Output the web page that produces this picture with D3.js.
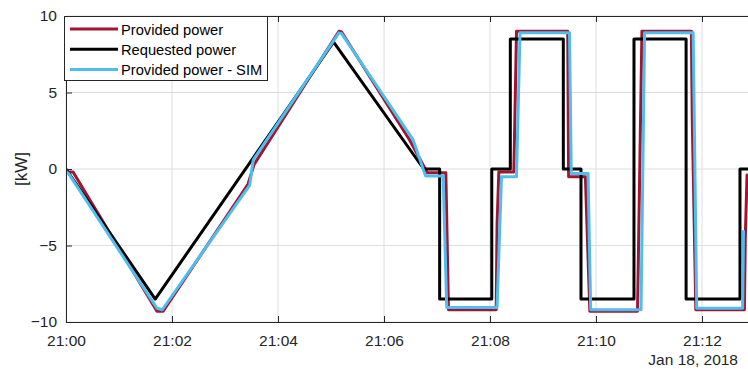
<!DOCTYPE html>
<html><head><meta charset="utf-8">
<script src="https://cdn.jsdelivr.net/npm/d3@7"></script>
<style>body{margin:0;background:#fff}svg{display:block}</style>
</head><body><svg id="c" width="748" height="369"></svg>
<script>
// ---- data (time in seconds after 21:00:00, Jan 18 2018; power in kW) ----
const startTime = new Date(2018, 0, 18, 21, 0, 0);
const xTickMinutes = [0, 2, 4, 6, 8, 10, 12];
const yTicks = [-10, -5, 0, 5, 10];
const dateLabel = "Jan 18, 2018";
const yLabel = "[kW]";
const seriesNames = ["Provided power", "Requested power", "Provided power - SIM"];
const seriesColors = ["#a2142f", "#000000", "#4dbeee"];

const requested = [
  [0, 0], [101, -8.5], [303, 8.3], [405, 0], [423, 0], [423, -8.5], [482, -8.5],
  [482, 0], [503, 0], [503, 8.5], [563, 8.5], [563, 0], [583, 0], [583, -8.5],
  [643, -8.5], [643, 8.5], [702, 8.5], [702, -8.5], [763, -8.5], [763, 0], [780, 0]
];
const provided = [
  [0, -0.2], [8, -0.2], [103, -9.3], [110, -9.3], [206, -1.0], [213, 0.3],
  [309, 9.0], [312, 8.95], [389, 1.9], [409, -0.25], [430, -0.25], [433, -9.2],
  [487, -9.2], [488, -3.6], [490, -0.2], [507, -0.2], [510, 9.0], [568, 9.0],
  [569, -0.5], [588, -0.5], [593, -9.3], [647, -9.3], [652, 9.0], [708, 9.0],
  [709, 3.2], [713, -9.2], [768, -9.2], [769, -4.5], [771, -0.4], [780, -0.4]
];
const providedSim = [
  [0, -0.15], [3, -0.3], [103, -9.1], [109, -9.2], [208, -1.05], [212, 0.6],
  [309, 8.9], [312, 8.85], [393, 1.9], [407, -0.45], [427, -0.45], [431, -9.05],
  [488, -9.05], [493, -0.5], [510, -0.5], [514, 8.9], [570, 8.9], [572, -0.3],
  [591, -0.3], [594, -9.2], [651, -9.2], [655, 8.9], [710, 8.9], [714, -9.1],
  [766, -9.1], [767, -4.0]
];

// ---- layout ----
const svg = d3.select("#c");
const L = 66, T = 16, B = 322, R = 755;
const axisColor = "#262626";
const gridColor = "#dedede";
const font = "'Liberation Sans', Arial, Helvetica, sans-serif";

const toDate = s => new Date(startTime.getTime() + s * 1000);
const x = d3.scaleTime()
  .domain([startTime, toDate(13 * 60)])
  .range([L, R]);
const y = d3.scaleLinear().domain([-10, 10]).range([B, T]);
const xTickDates = xTickMinutes.map(m => toDate(m * 60));

// grid
const grid = svg.append("g");
grid.selectAll("line.vx").data(xTickDates).join("line")
  .attr("x1", d => x(d)).attr("x2", d => x(d)).attr("y1", T).attr("y2", B)
  .attr("stroke", gridColor).attr("stroke-width", 1);
grid.selectAll("line.hy").data(yTicks).join("line")
  .attr("x1", L).attr("x2", R).attr("y1", d => y(d)).attr("y2", d => y(d))
  .attr("stroke", gridColor).attr("stroke-width", 1);

// clip
svg.append("clipPath").attr("id", "clip").append("rect")
  .attr("x", L).attr("y", T - 5).attr("width", R - L).attr("height", B - T + 10);

const line = d3.line().x(d => x(toDate(d[0]))).y(d => y(d[1]));
const plot = svg.append("g").attr("clip-path", "url(#clip)");
[provided, requested, providedSim].forEach((s, i) => {
  plot.append("path").datum(s).attr("d", line)
    .attr("fill", "none").attr("stroke", seriesColors[i])
    .attr("stroke-width", 3).attr("stroke-linejoin", "round");
});

// axes
function styleAxis(g) {
  g.select(".domain").attr("stroke", axisColor).attr("stroke-width", 1);
  g.selectAll(".tick line").attr("stroke", axisColor);
  g.selectAll(".tick text").attr("fill", axisColor)
    .style("font-family", font).style("font-size", "15.5px");
}
svg.append("g").attr("transform", `translate(0,${B})`)
  .call(d3.axisBottom(x).tickValues(xTickDates).tickFormat(d3.timeFormat("%H:%M"))
    .tickSizeInner(-6).tickSizeOuter(0).tickPadding(13))
  .call(styleAxis);
svg.append("g").attr("transform", `translate(0,${T})`)
  .call(d3.axisTop(x).tickValues(xTickDates).tickFormat("")
    .tickSizeInner(-6).tickSizeOuter(0))
  .call(styleAxis);
svg.append("g").attr("transform", `translate(${L},0)`)
  .call(d3.axisLeft(y).tickValues(yTicks).tickFormat(d3.format("d"))
    .tickSizeInner(-6).tickSizeOuter(0).tickPadding(9))
  .call(styleAxis);

// date label
svg.append("text").attr("x", 738).attr("y", 365).attr("text-anchor", "end")
  .attr("fill", axisColor).style("font-family", font).style("font-size", "15.5px")
  .text(dateLabel);

// y label
svg.append("text").attr("transform", "translate(27,169) rotate(-90)")
  .attr("text-anchor", "middle").attr("fill", axisColor)
  .style("font-family", font).style("font-size", "17px").text(yLabel);

// legend
const lg = svg.append("g");
lg.append("rect").attr("x", 64.5).attr("y", 16.5).attr("width", 203).attr("height", 64)
  .attr("fill", "#fff").attr("stroke", axisColor).attr("stroke-width", 1);
seriesNames.forEach((n, i) => {
  const yy = 29 + i * 20.2;
  lg.append("line").attr("x1", 70).attr("x2", 118).attr("y1", yy).attr("y2", yy)
    .attr("stroke", seriesColors[i]).attr("stroke-width", 3);
  lg.append("text").attr("x", 121).attr("y", yy + 5.5).attr("fill", "#000")
    .style("font-family", font).style("font-size", "14.7px").text(n);
});
</script></body></html>
